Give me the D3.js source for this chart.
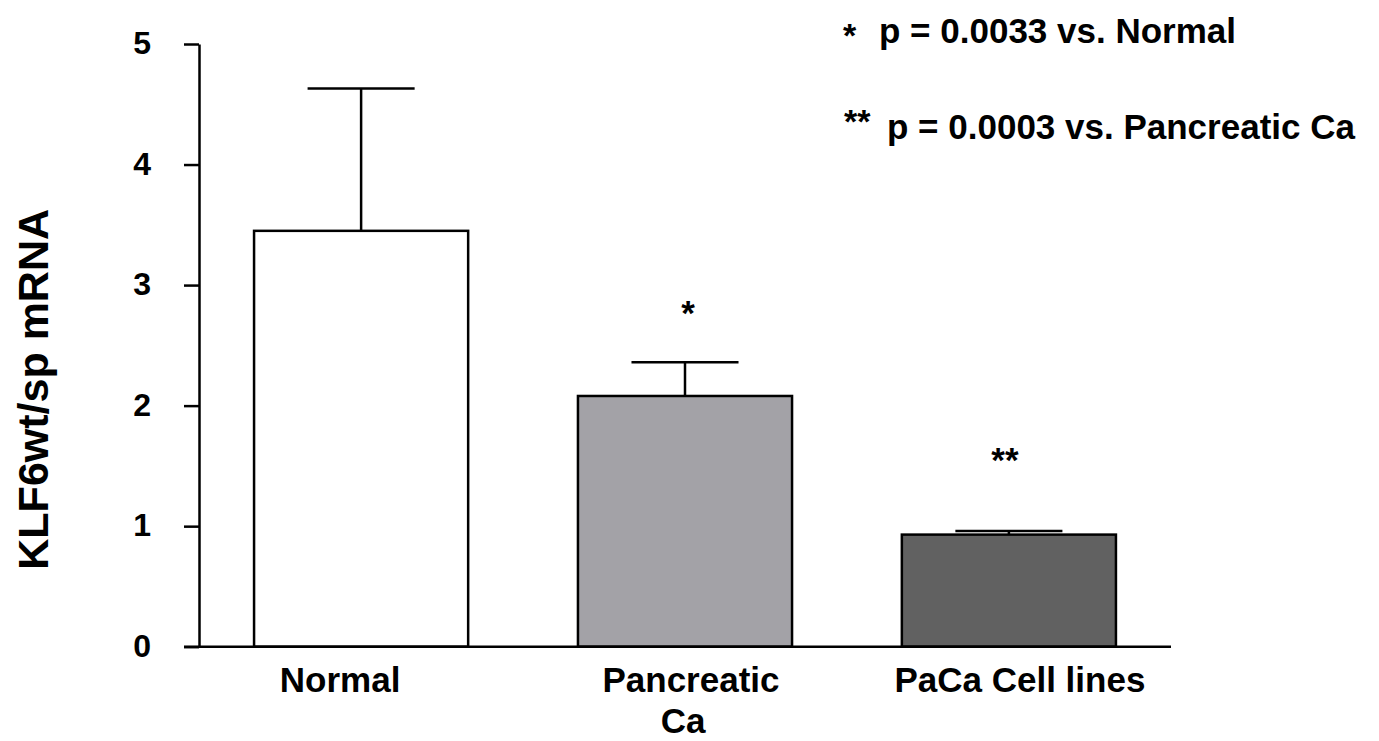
<!DOCTYPE html>
<html>
<head>
<meta charset="utf-8">
<script src="https://cdn.jsdelivr.net/npm/d3@7"></script>
<style>
  body { margin: 0; background: #fff; }
  text { font-family: "Liberation Sans", Arial, sans-serif; font-weight: bold; fill: #000; }
</style>
</head>
<body>
<div id="chart"></div>
<script>
// Data
const categories = ["Normal", "Pancreatic Ca", "PaCa Cell lines"];
const means = [3.45, 2.08, 0.93];
const errTops = [4.63, 2.36, 0.96];
const marks = ["", "*", "**"];
const fills = ["#ffffff", "#a3a2a7", "#616161"];
const yTicks = [0, 1, 2, 3, 4, 5];
const notes = [
  {star: "*", text: "p = 0.0033 vs. Normal"},
  {star: "**", text: "p = 0.0003 vs. Pancreatic Ca"}
];

const W = 1379, H = 741;
const margin = {top: 44, right: 208, bottom: 94, left: 199};

// layout tweaks to follow the original's placement
const labelLines = [["Normal"], ["Pancreatic", "Ca"], ["PaCa Cell lines"]];
const labelShift = [[-21], [6, -2], [11]];
const starShift = [{dx: 0, dy: 0}, {dx: 3, dy: -37}, {dx: -4, dy: -59}];

const svg = d3.select("#chart")
  .append("svg")
  .attr("width", W)
  .attr("height", H);

const rows = categories.map((c, i) => ({i, cat: c, mean: means[i], top: errTops[i], mark: marks[i], fill: fills[i]}));

// Scales
const x = d3.scaleBand()
  .domain(categories)
  .range([margin.left, W - margin.right])
  .paddingInner(0.339)
  .paddingOuter(0.17);

const y = d3.scaleLinear()
  .domain([0, 5])
  .range([H - margin.bottom - 0.3, margin.top]);

const cx = d => x(d) + x.bandwidth() / 2;

// Bars
svg.append("g")
  .selectAll("rect")
  .data(rows)
  .join("rect")
  .attr("x", d => x(d.cat))
  .attr("y", d => y(d.mean))
  .attr("width", x.bandwidth())
  .attr("height", d => y(0) - y(d.mean))
  .attr("fill", d => d.fill)
  .attr("stroke", "#000")
  .attr("stroke-width", 2.5);

// Error bars (upper only)
const err = svg.append("g")
  .attr("stroke", "#000")
  .attr("stroke-width", 2.5);

err.selectAll("line.v")
  .data(rows)
  .join("line")
  .attr("class", "v")
  .attr("x1", d => cx(d.cat))
  .attr("x2", d => cx(d.cat))
  .attr("y1", d => y(d.mean))
  .attr("y2", d => y(d.top));

err.selectAll("line.cap")
  .data(rows)
  .join("line")
  .attr("class", "cap")
  .attr("x1", d => x(d.cat) + x.bandwidth() / 4)
  .attr("x2", d => x(d.cat) + x.bandwidth() * 3 / 4)
  .attr("y1", d => y(d.top))
  .attr("y2", d => y(d.top));

// Significance stars
svg.append("g")
  .selectAll("text")
  .data(rows.filter(d => d.mark))
  .join("text")
  .attr("x", d => cx(d.cat) + starShift[d.i].dx)
  .attr("y", d => y(d.top) + starShift[d.i].dy)
  .attr("text-anchor", "middle")
  .style("font-size", "35px")
  .text(d => d.mark);

// Y axis
const yAxis = svg.append("g")
  .attr("transform", `translate(${margin.left},0)`)
  .call(d3.axisLeft(y).tickValues(yTicks).tickSize(15).tickSizeOuter(0).tickPadding(33).tickFormat(d3.format("d")));
yAxis.select(".domain").attr("stroke-width", 2.5);
yAxis.selectAll(".tick line").attr("stroke-width", 2.5);
yAxis.selectAll("text")
  .style("font-size", "32px")
  .style("font-family", "'Liberation Sans', Arial, sans-serif")
  .style("font-weight", "bold")
  .attr("dy", "0.3em");

// X axis baseline
svg.append("line")
  .attr("x1", margin.left - 15)
  .attr("x2", W - margin.right)
  .attr("y1", y(0))
  .attr("y2", y(0))
  .attr("stroke", "#000")
  .attr("stroke-width", 2.5);

// X labels
svg.append("g")
  .selectAll("text")
  .data(categories)
  .join("text")
  .attr("y", y(0) + 45)
  .attr("text-anchor", "middle")
  .style("font-size", "35px")
  .each(function(d, i) {
    d3.select(this).selectAll("tspan")
      .data(labelLines[i])
      .join("tspan")
      .attr("x", (l, j) => cx(d) + labelShift[i][j])
      .attr("dy", (l, j) => j === 0 ? 0 : 41)
      .text(l => l);
  });

// Y axis title
svg.append("text")
  .attr("transform", `translate(48,${(y(0) + y(5)) / 2 + 44}) rotate(-90)`)
  .attr("text-anchor", "middle")
  .style("font-size", "43px")
  .text("KLF6wt/sp mRNA");

// p-value notes
const note = svg.append("g");
note.selectAll("text.star")
  .data(notes)
  .join("text")
  .attr("class", "star")
  .attr("x", (d, i) => i === 0 ? 843 : 844)
  .attr("y", (d, i) => i === 0 ? 47 : 133)
  .style("font-size", "34px")
  .text(d => d.star);
note.selectAll("text.note")
  .data(notes)
  .join("text")
  .attr("class", "note")
  .attr("x", (d, i) => i === 0 ? 879 : 887)
  .attr("y", (d, i) => i === 0 ? 43 : 139)
  .style("font-size", "35px")
  .text(d => d.text);
</script>
</body>
</html>
